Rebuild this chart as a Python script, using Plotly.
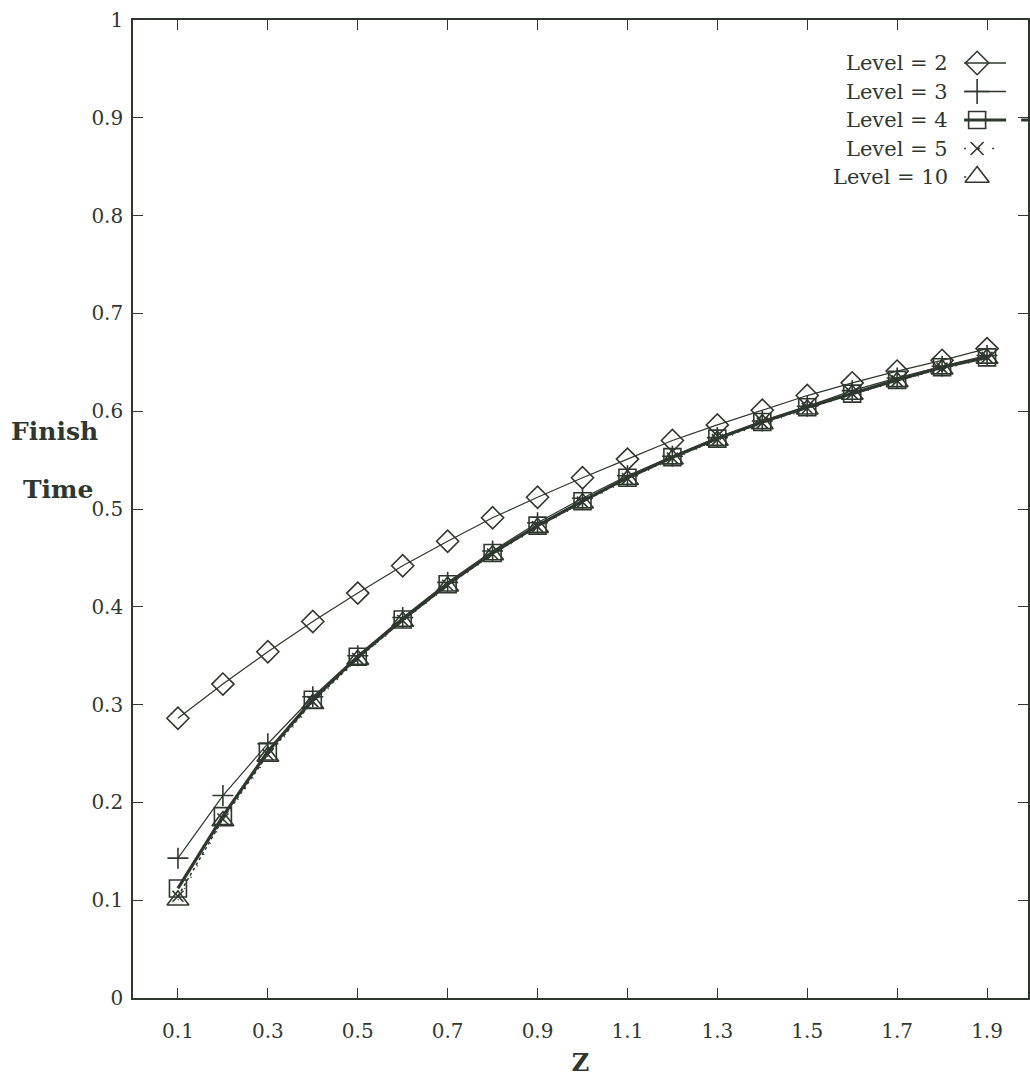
import plotly.graph_objects as go

# ---------------- data ----------------
z = [0.1, 0.2, 0.3, 0.4, 0.5, 0.6, 0.7, 0.8, 0.9, 1.0,
     1.1, 1.2, 1.3, 1.4, 1.5, 1.6, 1.7, 1.8, 1.9]

level2 = [0.286, 0.321, 0.354, 0.385, 0.414, 0.442, 0.467, 0.491, 0.512, 0.532,
          0.551, 0.570, 0.586, 0.601, 0.616, 0.629, 0.641, 0.652, 0.664]
level3 = [0.143, 0.207, 0.260, 0.308, 0.350, 0.389, 0.425, 0.457, 0.486, 0.511,
          0.534, 0.554, 0.573, 0.590, 0.605, 0.621, 0.634, 0.646, 0.657]
level4 = [0.112, 0.186, 0.252, 0.305, 0.349, 0.387, 0.423, 0.455, 0.483, 0.508,
          0.532, 0.553, 0.572, 0.589, 0.604, 0.618, 0.632, 0.645, 0.655]
level5 = [0.104, 0.183, 0.249, 0.303, 0.347, 0.386, 0.422, 0.454, 0.482, 0.507,
          0.531, 0.552, 0.571, 0.588, 0.603, 0.618, 0.631, 0.644, 0.655]
level10 = [0.100, 0.181, 0.247, 0.301, 0.346, 0.385, 0.421, 0.453, 0.481, 0.506,
           0.530, 0.551, 0.570, 0.587, 0.602, 0.617, 0.630, 0.643, 0.654]

series_names = ["Level = 2", "Level = 3", "Level = 4", "Level = 5", "Level = 10"]
series_values = [level2, level3, level4, level5, level10]

x_tickvals = [0.1, 0.3, 0.5, 0.7, 0.9, 1.1, 1.3, 1.5, 1.7, 1.9]
x_ticktext = ["0.1", "0.3", "0.5", "0.7", "0.9", "1.1", "1.3", "1.5", "1.7", "1.9"]
y_tickvals = [0, 0.1, 0.2, 0.3, 0.4, 0.5, 0.6, 0.7, 0.8, 0.9, 1.0]
y_ticktext = ["0", "0.1", "0.2", "0.3", "0.4", "0.5", "0.6", "0.7", "0.8", "0.9", "1"]

# ---------------- styles ----------------
INK = "#2f382f"
FONT = "DejaVu Serif"
styles = [
    dict(symbol="diamond-open", size=17, lw=1.2, dash="solid"),
    dict(symbol="cross-thin-open", size=15, lw=1.2, dash="solid"),
    dict(symbol="square-open", size=17, lw=3.2, dash="solid"),
    dict(symbol="x-thin-open", size=11, lw=1.5, dash="dot"),
    dict(symbol="triangle-up-open", size=19, lw=1.5, dash="1px,12px"),
]
# legend sample appearance (gnuplot-like key: text, then sample)
legend_dash = ["solid", "solid", "42px,15px", "2px,12px", "2px,40px"]
legend_lw = [1.4, 1.4, 3.0, 1.6, 1.6]
legend_msize = [18, 18, 17, 13, 21]

W, H = 1030, 1078
L, R, T, B = 133, 0, 20, 80

fig = go.Figure()

for name, vals, st in zip(series_names, series_values, styles):
    fig.add_trace(go.Scatter(
        x=z, y=vals, mode="lines+markers", name=name, showlegend=False,
        line=dict(color=INK, width=st["lw"], dash=st["dash"]),
        marker=dict(symbol=st["symbol"], size=st["size"], color=INK,
                    line=dict(color=INK, width=1.6)),
        cliponaxis=False,
    ))

# ---------------- manual legend ----------------
leg_top, leg_step = 63, 28.5
text_right = 952
sample_x0, sample_x1, marker_x = 966, 1008, 979
annotations = []
for i, (name, st) in enumerate(zip(series_names, styles)):
    yy = leg_top + i * leg_step
    fig.add_trace(go.Scatter(
        x=[sample_x0, 1030 if i == 2 else sample_x1],
        y=[yy, yy], mode="lines", xaxis="x2", yaxis="y2", showlegend=False,
        hoverinfo="skip",
        line=dict(color=INK, width=legend_lw[i], dash=legend_dash[i]),
    ))
    fig.add_trace(go.Scatter(
        x=[marker_x], y=[yy], mode="markers", xaxis="x2", yaxis="y2",
        showlegend=False, hoverinfo="skip",
        marker=dict(symbol=st["symbol"], size=legend_msize[i],
                    color=INK, line=dict(color=INK, width=1.6)),
    ))
    annotations.append(dict(
        x=text_right, y=yy, xref="x2", yref="y2", text=name, showarrow=False,
        xanchor="right", yanchor="middle",
        font=dict(family=FONT, size=21, color=INK),
    ))


def px_to_paper(px, py):
    return (px - L) / (W - L - R), (H - B - py) / (H - T - B)


for txt, px, py in [("<b>Finish</b>", 54, 431), ("<b>Time</b>", 58, 490)]:
    xp, yp = px_to_paper(px, py)
    annotations.append(dict(
        x=xp, y=yp, xref="paper", yref="paper", text=txt, showarrow=False,
        xanchor="center", yanchor="middle",
        font=dict(family=FONT, size=25, color=INK),
    ))

axis_common = dict(
    showline=True, linecolor=INK, linewidth=1.6, mirror="ticks",
    ticks="inside", ticklen=10, tickwidth=1.4, tickcolor=INK,
    showgrid=False, zeroline=False,
    tickfont=dict(family=FONT, size=20, color=INK),
)

fig.update_layout(
    width=W, height=H, autosize=False,
    margin=dict(l=L, r=R, t=T, b=B, pad=0),
    paper_bgcolor="white", plot_bgcolor="white",
    font=dict(family=FONT, color=INK),
    xaxis=dict(range=[0, (W - L - R) / 450.5], tickvals=x_tickvals, ticktext=x_ticktext,
               title=dict(text="<b>Z</b>", font=dict(family=FONT, size=24, color=INK), standoff=12),
               ticklabelstandoff=14, **axis_common),
    yaxis=dict(range=[0, 1], tickvals=y_tickvals, ticktext=y_ticktext,
               ticklabelstandoff=4, **axis_common),
    xaxis2=dict(overlaying="x", range=[L, W - R], visible=False, fixedrange=True),
    yaxis2=dict(overlaying="y", range=[H - B, T], visible=False, fixedrange=True),
    annotations=annotations,
    showlegend=False,
)

fig.write_html("out.html")
